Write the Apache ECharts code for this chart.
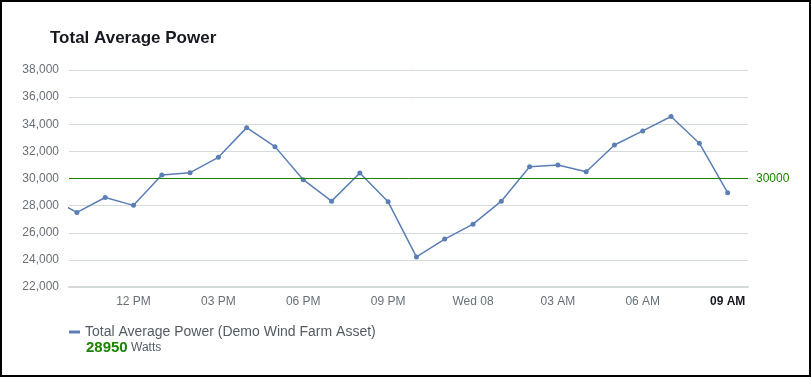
<!DOCTYPE html>
<html>
<head>
<meta charset="utf-8">
<script src="https://cdn.jsdelivr.net/npm/echarts@6/dist/echarts.min.js"></script>
<style>
  html, body { margin: 0; padding: 0; background: #fff; }
  #chart {
    width: 811px;
    height: 377px;
    box-sizing: border-box;
    border: 2px solid #000;
  }
</style>
</head>
<body>
<div id="chart"></div>
<script>
// hours since Tue 00:00; the 9 AM Tue point sits just outside the window
const hours = [9, 10, 11, 12, 13, 14, 15, 16, 17, 18, 19, 20, 21, 22, 23,
  24, 25, 26, 27, 28, 29, 30, 31, 32, 33]
const power = [28600, 27500, 28600, 28020, 30260, 30430, 31560, 33750, 32350, 29910, 28330, 30400, 28280, 24220, 25530,
  26630, 28330, 30870, 30990, 30500, 32470, 33510, 34570, 32600, 28950]
const tickHours = [12, 15, 18, 21, 24, 27, 30, 33]
const tickLabels = ['12 PM', '03 PM', '06 PM', '09 PM', 'Wed 08', '03 AM', '06 AM', '09 AM']
const threshold = 30000
const seriesName = 'Total Average Power (Demo Wind Farm Asset)'
const unit = 'Watts'

const chart = echarts.init(document.getElementById('chart'))

const labelFont = 'Liberation Sans, Arial, sans-serif'

chart.setOption({
  animation: false,
  title: {
    text: 'Total Average Power',
    left: 43,
    top: 23,
    textStyle: {
      fontFamily: labelFont,
      fontSize: 17,
      fontWeight: 'bold',
      color: '#16191f'
    }
  },
  grid: { left: 67, right: 61, top: 68, bottom: 88, outerBoundsMode: 'none' },
  legend: {
    left: 62,
    top: 318,
    icon: 'rect',
    itemWidth: 11,
    itemHeight: 3,
    textStyle: { fontFamily: labelFont, fontSize: 14, color: '#545b64' },
    data: [seriesName]
  },
  graphic: [
    {
      type: 'text',
      left: 84,
      top: 338,
      style: {
        text: `{v|${power[power.length - 1]}} {u|${unit}}`,
        rich: {
          v: { fontFamily: labelFont, fontSize: 15, fontWeight: 'bold', fill: '#1d8102' },
          u: { fontFamily: labelFont, fontSize: 12, fill: '#545b64' }
        }
      }
    }
  ],
  xAxis: {
    type: 'value',
    min: 9.72,
    max: 33.72,
    splitLine: { show: false },
    axisTick: { show: false },
    axisLine: { show: true, lineStyle: { color: '#d5dbdb', width: 2 } },
    axisLabel: {
      customValues: tickHours,
      margin: 9,
      fontFamily: labelFont,
      fontSize: 12,
      color: '#687078',
      formatter(value) {
        const i = tickHours.indexOf(Math.round(value))
        if (i < 0) return ''
        return i === tickHours.length - 1 ? `{b|${tickLabels[i]}}` : tickLabels[i]
      },
      rich: {
        b: { fontFamily: labelFont, fontSize: 12, fontWeight: 'bold', color: '#16191f' }
      }
    }
  },
  yAxis: {
    type: 'value',
    min: 22000,
    max: 38000,
    interval: 2000,
    axisLine: { show: false },
    axisTick: { show: false },
    splitLine: { lineStyle: { color: '#d5dbdb', width: 1 } },
    axisLabel: {
      margin: 10,
      fontFamily: labelFont,
      fontSize: 12,
      color: '#687078',
      formatter(value) {
        return Number(value).toLocaleString('en-US')
      }
    }
  },
  series: [
    {
      name: seriesName,
      type: 'line',
      data: hours.map((h, i) => [h, power[i]]),
      clip: true,
      symbol: 'circle',
      symbolSize: 5,
      showSymbol: true,
      lineStyle: { color: '#5b7eb5', width: 1.5 },
      itemStyle: { color: '#5b7eb5' },
      markLine: {
        silent: true,
        symbol: 'none',
        data: [{ yAxis: threshold }],
        lineStyle: { color: '#1d8102', type: 'solid', width: 1 },
        label: {
          position: 'end',
          distance: 8,
          formatter: String(threshold),
          fontFamily: labelFont,
          fontSize: 12,
          color: '#1d8102'
        }
      }
    }
  ]
})
</script>
</body>
</html>
